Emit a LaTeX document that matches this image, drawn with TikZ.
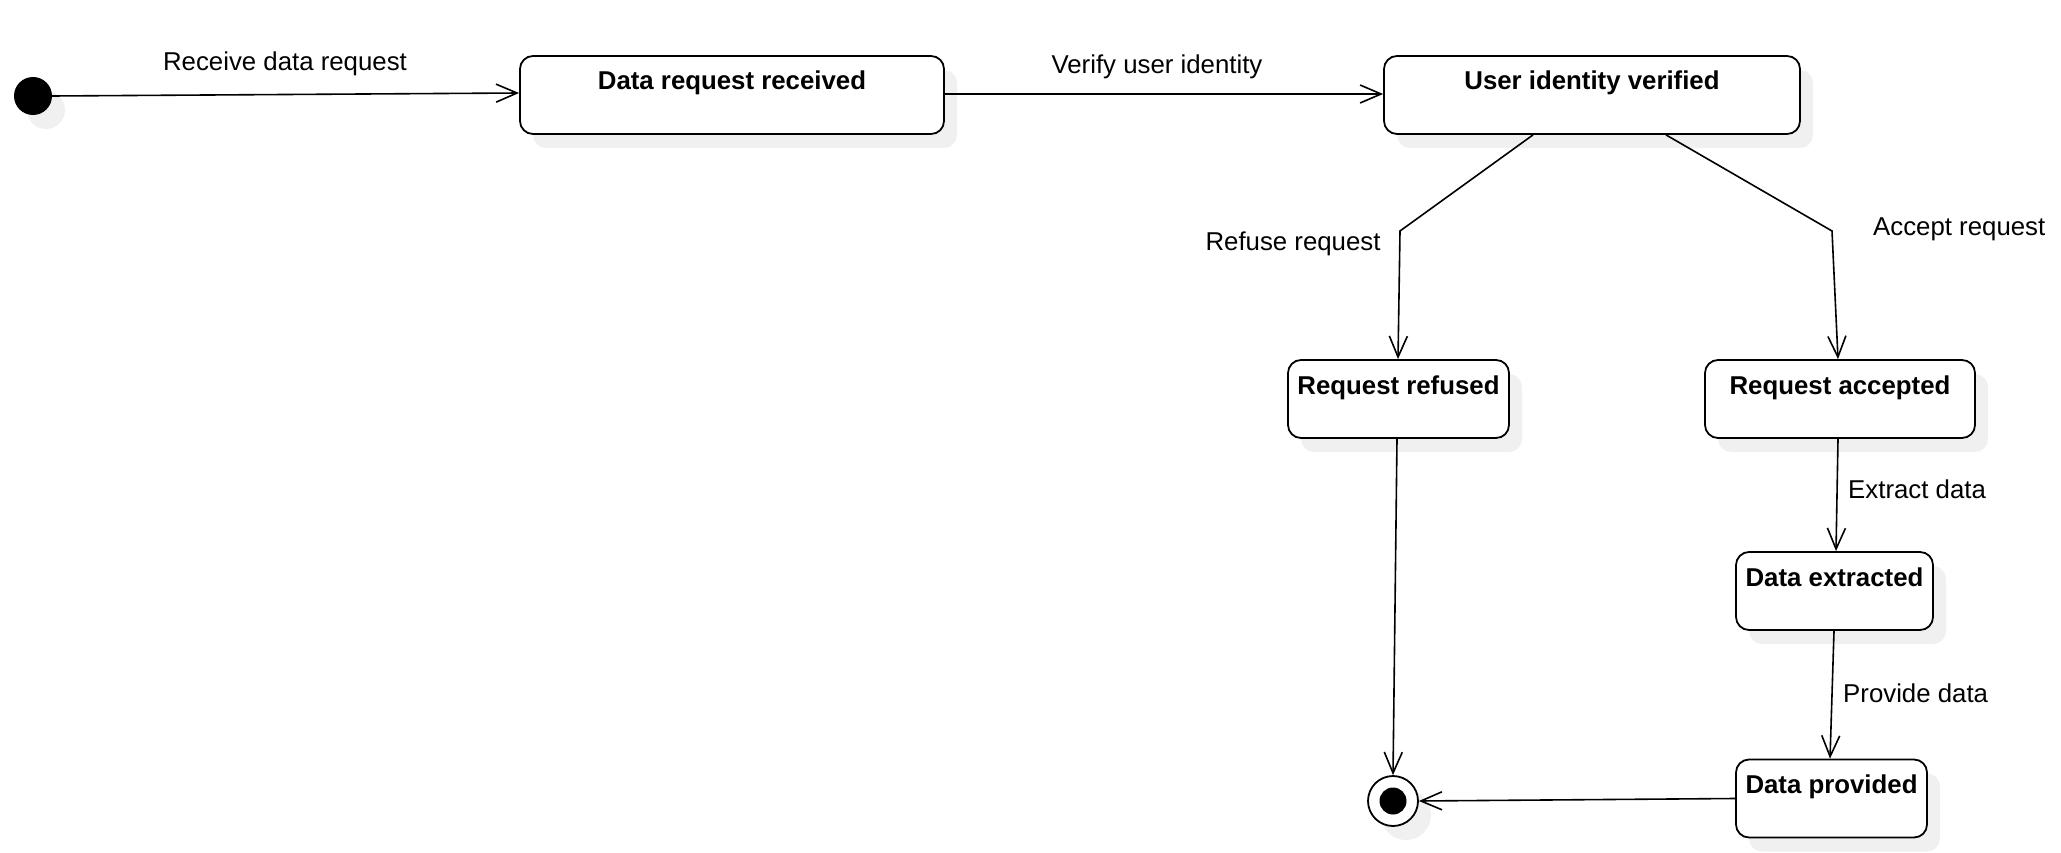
\documentclass[tikz,border=0pt]{standalone}
\usepackage{fontspec}
\setmainfont{Liberation Sans}
\usetikzlibrary{arrows.meta,shadows}
\definecolor{shadowgray}{HTML}{F0F0F0}
\tikzset{
  shd/.style={drop shadow={shadow xshift=13pt,shadow yshift=-14pt,fill=shadowgray,opacity=1}},
  statebox/.style={draw,line width=1.8pt,rounded corners=13pt,fill=white,shd,
    minimum height=78pt,inner ysep=10pt,inner xsep=2pt,text height=24pt,text depth=34pt,
    font=\fontsize{25.8}{30}\selectfont\bfseries,anchor=center},
  lbl/.style={font=\fontsize{25.8}{30}\selectfont,anchor=base,inner sep=0pt},
  conn/.style={line width=1.6pt,-{Straight Barb[length=21pt,width=18pt,line width=1.6pt]}},
  plain/.style={line width=1.6pt}
}
\begin{document}
\begin{tikzpicture}[x=1pt,y=-1pt]
\useasboundingbox (0,0) rectangle (2061,853);
% initial state
\node[circle,fill=black,minimum size=38pt,inner sep=0pt,shd] (init) at (33,96) {};
% states
\node[statebox,minimum width=424pt] (drr) at (732,95) {Data request received};
\node[statebox,minimum width=416pt] (uiv) at (1592,95) {User identity verified};
\node[statebox,minimum width=221pt] (rref) at (1398.5,399) {Request refused};
\node[statebox,minimum width=270pt] (racc) at (1840,399) {Request accepted};
\node[statebox,minimum width=197pt] (dext) at (1834.5,591) {Data extracted};
\node[statebox,minimum width=191pt] (dprov) at (1831.5,798.5) {Data provided};
% final state
\node[circle,draw,line width=1.8pt,fill=white,minimum size=50pt,inner sep=0pt,shd] (final) at (1393,801) {};
\node[circle,fill=black,minimum size=27pt,inner sep=0pt] (finalin) at (final.center) {};
% bend points
\coordinate (bl) at (1400,231);
\coordinate (br) at (1832,231);
% connectors
\draw[conn] (init.east) -- ([yshift=2pt]drr.west);
\draw[conn] ([yshift=1pt]drr.east) -- ([yshift=1pt]uiv.west);
\draw[conn] ([xshift=-59pt]uiv.south) -- (bl) -- ([xshift=-0.5pt]rref.north);
\draw[conn] ([xshift=74pt]uiv.south) -- (br) -- ([xshift=-2pt]racc.north);
\draw[conn] ([xshift=-1.5pt]rref.south) -- (final.north);
\draw[conn] ([xshift=-2pt]racc.south) -- ([xshift=1.5pt]dext.north);
\draw[conn] ([xshift=-0.5pt]dext.south) -- ([xshift=-1.5pt]dprov.north);
\draw[conn] (dprov.west) -- (final.east);
% labels
\node[lbl] (l1) at (285,71) {Receive data request};
\node[lbl] (l2) at (1157,74) {Verify user identity};
\node[lbl] (l3) at (1293,250) {Refuse request};
\node[lbl,anchor=base west] (l4) at (1873,236) {Accept request};
\node[lbl,anchor=base west] (l5) at (1848,498) {Extract data};
\node[lbl,anchor=base west] (l6) at (1843,702) {Provide data};
\end{tikzpicture}
\end{document}
